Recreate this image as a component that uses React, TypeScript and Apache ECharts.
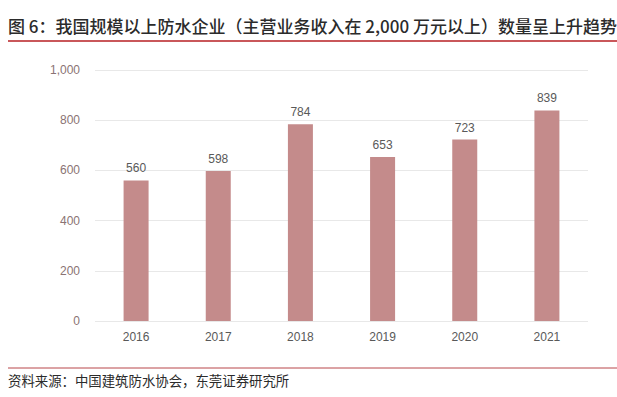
import React, { useEffect, useRef } from "react";
import * as echarts from "echarts";

const years = ["2016", "2017", "2018", "2019", "2020", "2021"];
const counts = [560, 598, 784, 653, 723, 839];
const titleText = "图 6：我国规模以上防水企业（主营业务收入在 2,000 万元以上）数量呈上升趋势";
const sourceText = "资料来源：中国建筑防水协会，东莞证券研究所";

export default function App() {
  const ref = useRef<HTMLDivElement>(null);
  useEffect(() => {
    const chart = echarts.init(ref.current!, null, { renderer: "svg" });
    const font = '"Noto Sans CJK SC", "Noto Sans", sans-serif';
    chart.setOption({
      animation: false,
      backgroundColor: "#ffffff",
      textStyle: { fontFamily: font },
      grid: { left: 95, right: 29, top: 70, bottom: 76 },
      xAxis: {
        type: "category",
        data: years,
        axisLine: { show: false },
        axisTick: { show: false },
        axisLabel: { color: "#595959", fontSize: 12, margin: 10, fontFamily: "Arial, Liberation Sans, sans-serif" },
      },
      yAxis: {
        type: "value",
        min: 0,
        max: 1000,
        interval: 200,
        axisLine: { show: false },
        axisTick: { show: false },
        splitLine: { lineStyle: { color: "#e8e8e8", width: 1 } },
        axisLabel: {
          color: "#8a7373",
          fontSize: 12,
          margin: 15,
          fontFamily: "Arial, Liberation Sans, sans-serif",
          formatter: (v: number) => v.toLocaleString("en-US"),
        },
      },
      series: [
        {
          type: "bar",
          data: counts,
          barWidth: 25,
          itemStyle: { color: "#c48b8b" },
          label: {
            show: true,
            position: "top",
            distance: 6,
            color: "#595959",
            fontSize: 12,
            fontFamily: "Arial, Liberation Sans, sans-serif",
          },
        },
      ],
      graphic: [
        {
          type: "text",
          left: 8,
          top: 17,
          style: { text: titleText, fontSize: 17, fontWeight: 500, fill: "#2b2b2b", fontFamily: font },
        },
        {
          type: "line",
          shape: { x1: 8, y1: 41, x2: 617, y2: 41 },
          style: { stroke: "#c9575a", lineWidth: 2 },
        },
        {
          type: "line",
          shape: { x1: 8, y1: 368, x2: 617, y2: 368 },
          style: { stroke: "#b8474a", lineWidth: 1 },
        },
        {
          type: "text",
          left: 8,
          top: 373,
          style: { text: sourceText, fontSize: 13.4, fill: "#2b2b2b", fontFamily: font },
        },
      ],
    });
    return () => chart.dispose();
  }, []);
  return (
    <div
      ref={ref}
      style={{ position: "absolute", left: 0, top: 0, width: 617, height: 397 }}
    />
  );
}
